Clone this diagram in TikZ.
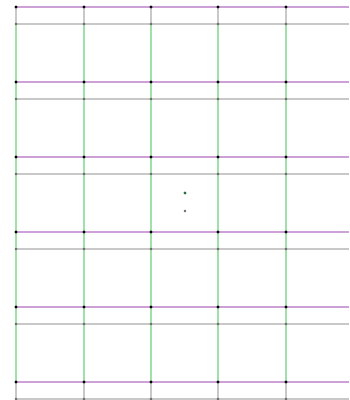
\documentclass[tikz,border=0pt]{standalone}
\usetikzlibrary{backgrounds}

\definecolor{gridpink}{RGB}{205,160,215}
\definecolor{gridgray}{RGB}{200,200,200}
\definecolor{gridgreen}{RGB}{160,225,170}
\definecolor{markgreen}{RGB}{40,110,70}

\tikzset{
  bdot/.style={circle, fill=black, inner sep=0pt, minimum size=3.4pt},
  gdot/.style={circle, fill=gray!80!black, inner sep=0pt, minimum size=2.6pt},
  pinkline/.style={draw=gridpink, line width=1.6pt},
  grayline/.style={draw=gridgray, line width=1.6pt},
  greenline/.style={draw=gridgreen, line width=1.6pt}
}

\begin{document}
\begin{tikzpicture}[x=1pt, y=-1pt]
\useasboundingbox (0,0) rectangle (349,400);

% dots on the grid
\foreach \r [count=\i] in {7,82,157,232,307,382}{
  \coordinate (pe\i) at (349,\r);
  \coordinate (ge\i) at (349,\r+17);
  \foreach \c [count=\j] in {16,84,151,218,286}{
    \node[bdot] (p\i\j) at (\c,\r) {};
    \node[gdot] (g\i\j) at (\c,\r+17) {};
  }
}

% the two marks in the middle
\node[circle, fill=markgreen, inner sep=0pt, minimum size=3.4pt] (m1) at (185,193) {};
\node[gdot] (m2) at (185,211) {};

\begin{pgfonlayer}{background}
  % rows
  \foreach \i in {1,...,6}{
    \draw[pinkline] (p\i1.center) -- (pe\i);
    \draw[grayline] (g\i1.center) -- (ge\i);
  }
  % columns
  \foreach \j in {1,...,5}{
    \draw[grayline] (p1\j.center) -- (g6\j.center);
    \draw[greenline] (g1\j.center) -- (p6\j.center);
  }
\end{pgfonlayer}
\end{tikzpicture}
\end{document}
